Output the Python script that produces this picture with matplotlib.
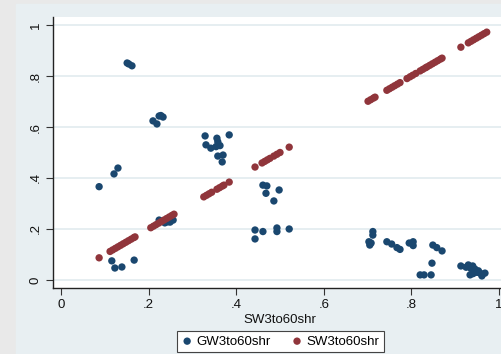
"""Scatter of GW3to60shr and SW3to60shr against SW3to60shr (Stata s2color look)."""

import matplotlib
matplotlib.use("Agg")
import matplotlib.pyplot as plt
from matplotlib.patches import Rectangle

# ---------------------------------------------------------------------------
# Data
# ---------------------------------------------------------------------------

# SW3to60shr values (x), plotted against themselves for the SW series
sw_values = [
    0.087,
    0.112, 0.118, 0.124, 0.130, 0.136, 0.142, 0.148, 0.154, 0.160, 0.166, 0.169,
    0.205, 0.211, 0.217, 0.223, 0.229, 0.235, 0.241, 0.247, 0.253, 0.258,
    0.326, 0.332, 0.338, 0.344, 0.356, 0.362, 0.368, 0.372, 0.384,
    0.443, 0.459, 0.465, 0.471, 0.477, 0.486, 0.493, 0.500, 0.521,
    0.701, 0.707, 0.713, 0.717,
    0.744, 0.750, 0.756, 0.762, 0.768, 0.774,
    0.790, 0.797, 0.803, 0.810,
    0.820, 0.826, 0.832, 0.836,
    0.842, 0.848, 0.854, 0.860, 0.866, 0.870,
    0.913,
    0.930, 0.936, 0.942, 0.948, 0.954, 0.960, 0.966, 0.972,
]

# GW3to60shr points: x (SW3to60shr) and y (GW3to60shr)
gw_x = [
    0.087, 0.121, 0.130,
    0.151, 0.155, 0.162,
    0.210, 0.219, 0.224, 0.228, 0.233,
    0.329, 0.331, 0.342, 0.356, 0.358, 0.363, 0.354, 0.358, 0.370, 0.368, 0.384,
    0.461, 0.470, 0.468, 0.498, 0.486,
    0.443, 0.443, 0.461, 0.493, 0.493, 0.521,
    0.116, 0.123, 0.139, 0.167,
    0.224, 0.230, 0.237, 0.243, 0.249, 0.256,
    0.712, 0.712, 0.703, 0.705, 0.708, 0.744, 0.755, 0.767, 0.774,
    0.795, 0.804, 0.804, 0.849, 0.858, 0.870, 0.847,
    0.820, 0.829, 0.845,
    0.913, 0.930, 0.940, 0.934, 0.957, 0.968, 0.961, 0.945,
    0.925, 0.936, 0.950, 0.953, 0.941,
]
gw_y = [
    0.366, 0.416, 0.439,
    0.851, 0.847, 0.840,
    0.624, 0.612, 0.643, 0.645, 0.639,
    0.565, 0.530, 0.517, 0.556, 0.542, 0.527, 0.523, 0.486, 0.490, 0.463, 0.569,
    0.372, 0.369, 0.340, 0.353, 0.310,
    0.196, 0.161, 0.190, 0.204, 0.190, 0.200,
    0.075, 0.047, 0.051, 0.078,
    0.235, 0.230, 0.224, 0.228, 0.227, 0.235,
    0.190, 0.176, 0.150, 0.137, 0.145, 0.150, 0.141, 0.127, 0.120,
    0.145, 0.150, 0.135, 0.137, 0.127, 0.114, 0.066,
    0.020, 0.020, 0.020,
    0.055, 0.059, 0.055, 0.020, 0.027, 0.027, 0.016, 0.043,
    0.050, 0.045, 0.030, 0.036, 0.025,
]

x_ticks = [0, 0.2, 0.4, 0.6, 0.8, 1.0]
x_tick_labels = ["0", ".2", ".4", ".6", ".8", "1"]
y_ticks = [0, 0.2, 0.4, 0.6, 0.8, 1.0]
y_tick_labels = ["0", ".2", ".4", ".6", ".8", "1"]

# Stata s2color palette
NAVY = "#1a476f"
MAROON = "#90353b"
OUTER = "#e9e9e9"
REGION = "#e8eff2"
GRID = "#e4edf0"

plt.rcParams["font.family"] = ["Liberation Sans", "DejaVu Sans"]

# ---------------------------------------------------------------------------
# Figure
# ---------------------------------------------------------------------------

fig = plt.figure(figsize=(5.01, 3.54), dpi=100)
fig.patch.set_facecolor(OUTER)
fig.add_artist(Rectangle((16 / 501, 0), 1, 1 - 4 / 354,
                         transform=fig.transFigure, color=REGION, zorder=-5))

# plot region: left edge 53px, bottom 288px, top 17px; runs past the right edge
ax = fig.add_axes([53 / 501, (354 - 288) / 354, 454 / 501, (288 - 17) / 354])
ax.set_zorder(1)
ax.set_facecolor("white")

for yv in y_ticks:
    ax.axhline(yv, color=GRID, linewidth=1.3, zorder=0)

ax.scatter(gw_x, gw_y, s=28, color=NAVY, edgecolors="none", zorder=3,
           label="GW3to60shr")
ax.scatter(sw_values, sw_values, s=28, color=MAROON, edgecolors="none", zorder=3,
           label="SW3to60shr")

ax.set_xlim(-0.0183, 1.0183)
ax.set_ylim(-0.0314, 1.0314)

ax.set_xticks(x_ticks)
ax.set_xticklabels(x_tick_labels)
ax.set_yticks(y_ticks)
ax.set_yticklabels(y_tick_labels, rotation=90, va="center")
ax.tick_params(axis="both", direction="out", length=5, width=0.8,
               color="#333333", labelsize=9.5, labelcolor="#111111", pad=3)

for side in ("top", "right"):
    ax.spines[side].set_visible(False)
for side in ("left", "bottom"):
    ax.spines[side].set_color("#222222")
    ax.spines[side].set_linewidth(1.0)

ax.set_xlabel("SW3to60shr", fontsize=9.5, color="#111111", labelpad=2)

handles, labels = ax.get_legend_handles_labels()
leg = fig.legend(handles, labels, loc="center",
                 bbox_to_anchor=(280.5 / 501, (354 - 341.5) / 354),
                 ncol=2, fontsize=9.5, frameon=True, fancybox=False,
                 edgecolor="#444444", facecolor="white", framealpha=1,
                 handletextpad=0.3, columnspacing=1.6, handlelength=0.8,
                 borderpad=0.35, markerscale=1.0)
leg.get_frame().set_linewidth(0.8)
leg.set_zorder(2)

fig.savefig("out.png", dpi=100, facecolor=fig.get_facecolor())
